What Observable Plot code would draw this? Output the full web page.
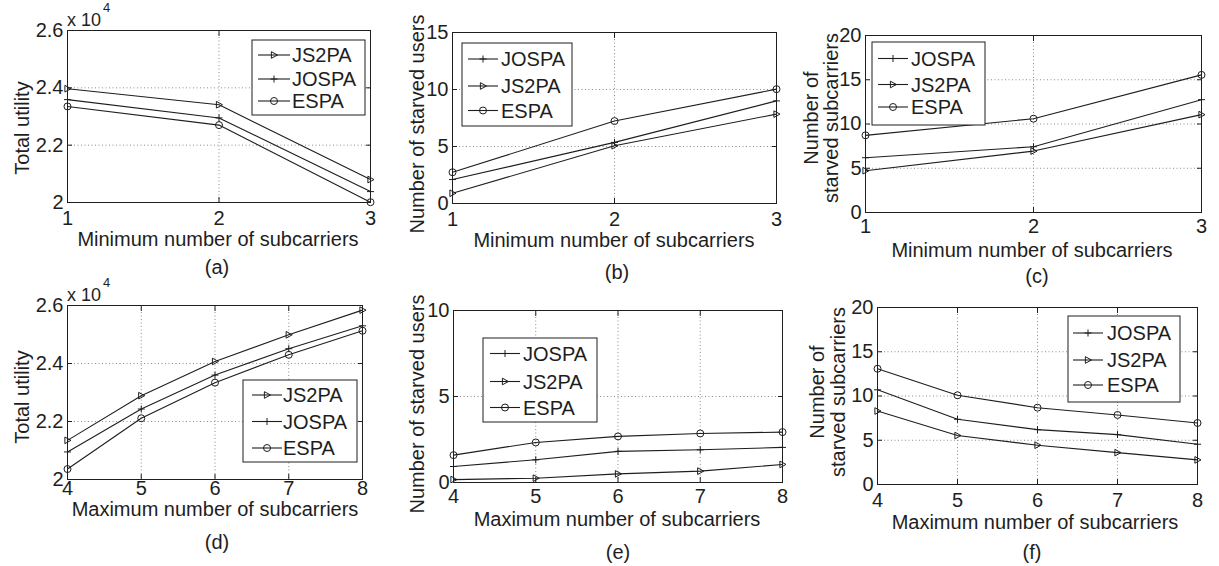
<!DOCTYPE html>
<html><head><meta charset="utf-8">
<script src="https://cdn.jsdelivr.net/npm/d3@7"></script>
<script src="https://cdn.jsdelivr.net/npm/@observablehq/plot@0.6"></script>
<style>
html,body{margin:0;padding:0;background:#fff;}
#fig{position:relative;width:1219px;height:566px;overflow:hidden;background:#fff;}
#fig svg{position:absolute;}
</style></head><body><div id="fig"></div>
<script>
// ---------- data ----------
const minSubcarriers = [1, 2, 3];
const maxSubcarriers = [4, 5, 6, 7, 8];

// (a) total utility vs minimum number of subcarriers
const utilMin_JS2PA = [23970, 23410, 20800];
const utilMin_JOSPA = [23590, 22950, 20380];
const utilMin_ESPA  = [23350, 22700, 20010];
// (b) starved users vs minimum number of subcarriers
const usersMin_JOSPA = [2.1, 5.36, 9.0];
const usersMin_JS2PA = [0.9, 5.07, 7.84];
const usersMin_ESPA  = [2.74, 7.23, 10.03];
// (c) starved subcarriers vs minimum number of subcarriers
const subsMin_JOSPA = [6.19, 7.43, 12.75];
const subsMin_JS2PA = [4.72, 6.94, 11.06];
const subsMin_ESPA  = [8.72, 10.6, 15.55];
// (d) total utility vs maximum number of subcarriers
const utilMax_JS2PA = [21350, 22890, 24070, 24990, 25840];
const utilMax_JOSPA = [20950, 22430, 23600, 24510, 25300];
const utilMax_ESPA  = [20360, 22110, 23340, 24300, 25130];
// (e) starved users vs maximum number of subcarriers
const usersMax_JOSPA = [0.93, 1.32, 1.81, 1.9, 2.04];
const usersMax_JS2PA = [0.17, 0.25, 0.5, 0.66, 1.05];
const usersMax_ESPA  = [1.59, 2.33, 2.68, 2.85, 2.93];
// (f) starved subcarriers vs maximum number of subcarriers
const subsMax_JOSPA = [10.7, 7.37, 6.2, 5.64, 4.55];
const subsMax_JS2PA = [8.3, 5.53, 4.44, 3.6, 2.78];
const subsMax_ESPA  = [13.08, 10.08, 8.68, 7.86, 6.95];

const utilTicks = [20000, 22000, 24000, 26000];
const users15Ticks = [0, 5, 10, 15];
const users10Ticks = [0, 5, 10];
const subs20Ticks = [0, 5, 10, 15, 20];

const xTitleMin = "Minimum number of subcarriers";
const xTitleMax = "Maximum number of subcarriers";
const yTitleUtil = ["Total utility"];
const yTitleUsers = ["Number of starved users"];
const yTitleSubs = ["Number of", "starved subcarriers"];

// ---------- styles ----------
const font = '"Liberation Sans", Arial, Helvetica, sans-serif';
const ink = "#1e1e1e";
const gridColor = "#8c8c8c";

const triRight = {draw(ctx, size) {const k = Math.sqrt(size / Math.PI); ctx.moveTo(k, 0); ctx.lineTo(-0.75 * k, -0.95 * k); ctx.lineTo(-0.75 * k, 0.95 * k); ctx.closePath();}};
const plusSym = {draw(ctx, size) {const k = Math.sqrt(size / Math.PI); ctx.moveTo(-k, 0); ctx.lineTo(k, 0); ctx.moveTo(0, -k); ctx.lineTo(0, k);}};
const circSym = {draw(ctx, size) {const k = Math.sqrt(size / Math.PI); ctx.moveTo(k, 0); ctx.arc(0, 0, k, 0, 2 * Math.PI);}};
const symbols = {JS2PA: triRight, JOSPA: plusSym, ESPA: circSym};

const utilFmt = d => String(+(d / 1e4).toFixed(1));
const plainFmt = d => String(d);

const panels = [
  {tag: "(a)", xs: minSubcarriers, series: {JS2PA: utilMin_JS2PA, JOSPA: utilMin_JOSPA, ESPA: utilMin_ESPA}, order: ["JS2PA", "JOSPA", "ESPA"],
   yDomain: [20000, 26000], yTicks: utilTicks, yFmt: utilFmt, exp: true,
   box: [0, 0, 410, 283], frame: [67, 370, 30, 202], xPad: 8,
   xTitle: xTitleMin, xTitlePos: [218, 239], yTitle: yTitleUtil, yTitlePos: [[22, 128]], capPos: [217, 267],
   legend: {box: [252, 40, 365, 115], rows: [55, 79, 101], line: [258, 290], text: 292}},
  {tag: "(b)", xs: minSubcarriers, series: {JOSPA: usersMin_JOSPA, JS2PA: usersMin_JS2PA, ESPA: usersMin_ESPA}, order: ["JOSPA", "JS2PA", "ESPA"],
   yDomain: [0, 15], yTicks: users15Ticks, yFmt: plainFmt,
   box: [410, 0, 400, 283], frame: [452, 776, 32, 203], xPad: 8,
   xTitle: xTitleMin, xTitlePos: [614, 240], yTitle: yTitleUsers, yTitlePos: [[417, 124]], capPos: [617, 272],
   legend: {box: [462, 43, 572, 126], rows: [59, 86, 110.5], line: [468, 498], text: 501}},
  {tag: "(c)", xs: minSubcarriers, series: {JOSPA: subsMin_JOSPA, JS2PA: subsMin_JS2PA, ESPA: subsMin_ESPA}, order: ["JOSPA", "JS2PA", "ESPA"],
   yDomain: [0, 20], yTicks: subs20Ticks, yFmt: plainFmt,
   box: [810, 0, 409, 283], frame: [865, 1201, 35, 212], xPad: 6.5,
   xTitle: xTitleMin, xTitlePos: [1032, 250], yTitle: yTitleSubs, yTitlePos: [[811, 118], [831, 118]], capPos: [1037, 276],
   legend: {box: [872, 42, 985, 125], rows: [58.5, 84.5, 107], line: [878, 908], text: 911}},
  {tag: "(d)", xs: maxSubcarriers, series: {JS2PA: utilMax_JS2PA, JOSPA: utilMax_JOSPA, ESPA: utilMax_ESPA}, order: ["JS2PA", "JOSPA", "ESPA"],
   yDomain: [20000, 26000], yTicks: utilTicks, yFmt: utilFmt, exp: true,
   box: [0, 283, 410, 283], frame: [67, 362, 305, 479], xPad: 1,
   xTitle: xTitleMax, xTitlePos: [215, 509], yTitle: yTitleUtil, yTitlePos: [[22, 397]], capPos: [217, 542],
   legend: {box: [243, 380, 357, 462], rows: [395, 421.5, 448], line: [252, 282], text: 283}},
  {tag: "(e)", xs: maxSubcarriers, series: {JOSPA: usersMax_JOSPA, JS2PA: usersMax_JS2PA, ESPA: usersMax_ESPA}, order: ["JOSPA", "JS2PA", "ESPA"],
   yDomain: [0, 10], yTicks: users10Ticks, yFmt: plainFmt,
   box: [410, 283, 400, 283], frame: [453, 782, 310, 482], xPad: 6,
   xTitle: xTitleMax, xTitlePos: [617, 519], yTitle: yTitleUsers, yTitlePos: [[417, 404]], capPos: [618, 552],
   legend: {box: [483, 338, 597, 422], rows: [353.5, 381.5, 407.5], line: [490, 520], text: 523}},
  {tag: "(f)", xs: maxSubcarriers, series: {JOSPA: subsMax_JOSPA, JS2PA: subsMax_JS2PA, ESPA: subsMax_ESPA}, order: ["JOSPA", "JS2PA", "ESPA"],
   yDomain: [0, 20], yTicks: subs20Ticks, yFmt: plainFmt,
   box: [810, 283, 409, 283], frame: [877, 1197, 307, 484], xPad: 8,
   xTitle: xTitleMax, xTitlePos: [1035, 522], yTitle: yTitleSubs, yTitlePos: [[817, 392], [838, 392]], capPos: [1032, 552],
   legend: {box: [1068, 316, 1180, 402], rows: [333, 360, 385], line: [1073, 1103], text: 1107}}
];

const fig = document.getElementById("fig");

for (const p of panels) {
  const [L, T, W, H] = p.box;
  const [fx0, fx1, fy0, fy1] = p.frame;
  const rows = [];
  for (const name of p.order) p.series[name].forEach((v, i) => rows.push({series: name, x: p.xs[i], y: v}));
  const xDomain = [p.xs[0], p.xs[p.xs.length - 1]];
  const dotMarks = p.order.map(name => Plot.dot(rows.filter(d => d.series === name), {x: "x", y: "y", symbol: symbols[name], r: 3.5, fill: "none", stroke: ink, strokeWidth: 1}));
  const chart = Plot.plot({
    width: W, height: H,
    marginLeft: fx0 - L, marginRight: L + W - fx1, marginTop: fy0 - T, marginBottom: T + H - fy1,
    x: {domain: xDomain}, y: {domain: p.yDomain},
    style: {fontFamily: font, fontSize: "20px", color: ink, background: "transparent", overflow: "visible"},
    marks: [
      Plot.gridX(p.xs, {stroke: gridColor, strokeOpacity: 1, strokeWidth: 1, strokeDasharray: "1,2.5"}),
      Plot.gridY(p.yTicks, {stroke: gridColor, strokeOpacity: 1, strokeWidth: 1, strokeDasharray: "1,2.5"}),
      Plot.line(rows, {x: "x", y: "y", z: "series", stroke: ink, strokeWidth: 1.1}),
      ...dotMarks,
      Plot.axisX(p.xs, {anchor: "bottom", tickSize: -5, fill: "none", label: null, stroke: ink}),
      Plot.axisX(p.xs, {anchor: "top", tickSize: -5, fill: "none", label: null, stroke: ink}),
      Plot.axisY(p.yTicks, {anchor: "left", tickSize: -5, fill: "none", label: null, stroke: ink}),
      Plot.axisY(p.yTicks, {anchor: "right", tickSize: -5, fill: "none", label: null, stroke: ink}),
      Plot.axisX(p.xs, {anchor: "bottom", tickSize: 0, tickPadding: p.xPad, label: null, tickFormat: plainFmt, fontSize: 20, fill: ink}),
      Plot.axisY(p.yTicks, {anchor: "left", tickSize: 0, tickPadding: 4, label: null, tickFormat: p.yFmt, fontSize: 20, fill: ink}),
      Plot.frame({stroke: ink, strokeWidth: 1})
    ]
  });
  chart.style.left = L + "px";
  chart.style.top = T + "px";
  fig.appendChild(chart);
}

// ---------- overlay: titles, captions, legends ----------
const ov = d3.select(fig).append("svg")
  .attr("width", 1219).attr("height", 566)
  .style("left", "0px").style("top", "0px").style("pointer-events", "none")
  .attr("font-family", font).attr("fill", ink);

for (const p of panels) {
  ov.append("text").attr("x", p.xTitlePos[0]).attr("y", p.xTitlePos[1]).attr("dy", "0.35em")
    .attr("text-anchor", "middle").attr("font-size", 20).text(p.xTitle);
  p.yTitle.forEach((t, i) => {
    const [cx, cy] = p.yTitlePos[i];
    ov.append("text").attr("transform", `translate(${cx},${cy}) rotate(-90)`).attr("dy", "0.35em")
      .attr("text-anchor", "middle").attr("font-size", 20).text(t);
  });
  ov.append("text").attr("x", p.capPos[0]).attr("y", p.capPos[1]).attr("dy", "0.35em")
    .attr("text-anchor", "middle").attr("font-size", 20).text(p.tag);
  if (p.exp) {
    const t = ov.append("text").attr("x", p.frame[0]).attr("y", p.frame[2] - 4).attr("font-size", 18);
    t.append("tspan").text("x 10");
    t.append("tspan").attr("font-size", 13).attr("dy", -14).attr("dx", 2).text("4");
  }
  const lg = p.legend;
  const [bx0, by0, bx1, by1] = lg.box;
  ov.append("rect").attr("x", bx0).attr("y", by0).attr("width", bx1 - bx0).attr("height", by1 - by0)
    .attr("fill", "#fff").attr("stroke", ink).attr("stroke-width", 1);
  p.order.forEach((name, i) => {
    const y = lg.rows[i];
    ov.append("line").attr("x1", lg.line[0]).attr("x2", lg.line[1]).attr("y1", y).attr("y2", y)
      .attr("stroke", ink).attr("stroke-width", 1.1);
    ov.append("path").attr("transform", `translate(${(lg.line[0] + lg.line[1]) / 2},${y})`)
      .attr("d", d3.symbol(symbols[name], 3.5 * 3.5 * Math.PI)()).attr("fill", "none").attr("stroke", ink);
    ov.append("text").attr("x", lg.text).attr("y", y).attr("dy", "0.35em").attr("font-size", 20).text(name);
  });
}
</script></body></html>
